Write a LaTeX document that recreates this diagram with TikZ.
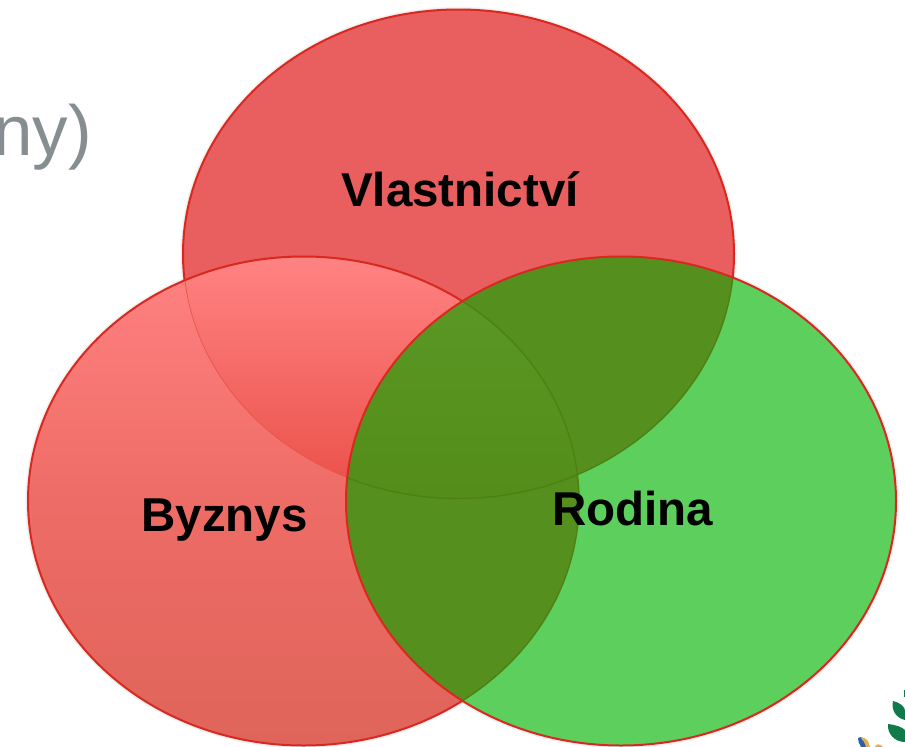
\documentclass[tikz,border=0pt]{standalone}
\usepackage{fontspec}
\setmainfont{Liberation Sans}
\definecolor{vlast}{HTML}{E95E5E}
\definecolor{byzT}{HTML}{FF8282}
\definecolor{byzM}{HTML}{EE6C66}
\definecolor{byzB}{HTML}{DF6459}
\definecolor{ovT}{HTML}{FF8383}
\definecolor{ovB}{HTML}{EA4F47}
\definecolor{rod}{HTML}{5CCF5C}
\definecolor{grn}{HTML}{558F1E}
\definecolor{grnT}{HTML}{5A9724}
\definecolor{grnB}{HTML}{548D19}
\definecolor{rim}{HTML}{D9281F}
\definecolor{rimdark}{HTML}{4E8210}
\definecolor{greytxt}{HTML}{868E91}
\definecolor{leaf}{HTML}{107A4B}
\definecolor{bluelogo}{HTML}{2B5FA8}
\definecolor{goldlogo}{HTML}{E0B050}
\tikzset{
  x=1pt,y=-1pt,
  label text/.style={font=\fontsize{47.5}{50}\selectfont\bfseries,text=black,inner sep=0pt,anchor=base},
  rimline/.style={draw=rim,line width=2pt},
  rimsoft/.style={draw=rimdark,line width=1.4pt},
}
\newcommand{\topE}{(458.5,254) ellipse [x radius=275.5,y radius=244.5]}
\newcommand{\leftE}{(303.5,501) ellipse [x radius=275.5,y radius=244.5]}
\newcommand{\rightE}{(621,501) ellipse [x radius=275,y radius=244.5]}
\begin{document}
\begin{tikzpicture}
\useasboundingbox (0,0) rectangle (905,747);
\fill[white] (0,0) rectangle (905,747);
% grey title fragment
\node[font=\fontsize{71}{74}\selectfont,text=greytxt,inner sep=0pt,anchor=base east] (title) at (92,155) {ny)};
% soft shadows
\foreach \w/\o in {6/0.03,4/0.04}{
  \draw[black,opacity=\o,line width=\w pt] \topE;
  \draw[black,opacity=\o,line width=\w pt] \leftE;
  \draw[black,opacity=\o,line width=\w pt] \rightE;
}
% top ellipse
\fill[vlast] \topE;
\draw[rimline] \topE;
% left ellipse
\shade[top color=byzT,bottom color=byzB,middle color=byzM] \leftE;
\begin{scope}
  \clip \leftE;
  \clip \topE;
  \shade[top color=ovT,bottom color=ovB] (100,257) rectangle (700,499);
  \draw[ovB!70!byzB,line width=1.4pt] \topE;
\end{scope}
\draw[rimline] \leftE;
% right ellipse
\fill[rod] \rightE;
\begin{scope}
  \clip \rightE;
  \clip \topE;
  \fill[grn] (100,0) rectangle (905,747);
\end{scope}
\begin{scope}
  \clip \rightE;
  \clip \leftE;
  \fill[grn] (0,0) rectangle (905,747);
  \begin{scope}
    \clip \topE;
    \shade[top color=grnT,bottom color=grnB] (300,298) rectangle (600,499);
  \end{scope}
\end{scope}
\begin{scope}
  \clip \rightE;
  \draw[rimsoft] \topE;
  \draw[rimsoft] \leftE;
\end{scope}
\draw[rimline] \rightE;
% labels
\node[label text] (vlastnictvi) at (460,206) {Vlastnictví};
\node[label text] (byznys) at (224.5,531.5) {Byznys};
\node[label text] (rodina) at (632.5,525.5) {Rodina};
% logo fragment
\fill[leaf] (893,701) .. controls (901,703) and (905,707) .. (905,711) -- (905,720) .. controls (896,718) and (891,710) .. (893,701) -- cycle;
\fill[leaf] (888,724) .. controls (896,725) and (902,727) .. (905,730) -- (905,742) .. controls (895,742) and (887,734) .. (888,724) -- cycle;
\fill[leaf] (904,690) -- (905,690) -- (905,697) -- (904,697) -- cycle;
\fill[bluelogo] (858,738) .. controls (861,736) and (864,738) .. (866,741) -- (869,747) -- (861,747) .. controls (859,744) and (858,741) .. (858,738) -- cycle;
\fill[goldlogo] (861,738) .. controls (866,737) and (869,741) .. (870,747) -- (866,747) .. controls (865,743) and (863,740) .. (861,738) -- cycle;
\fill[goldlogo] (875,747) .. controls (876,744) and (880,743) .. (883,747) -- cycle;
\end{tikzpicture}
\end{document}
